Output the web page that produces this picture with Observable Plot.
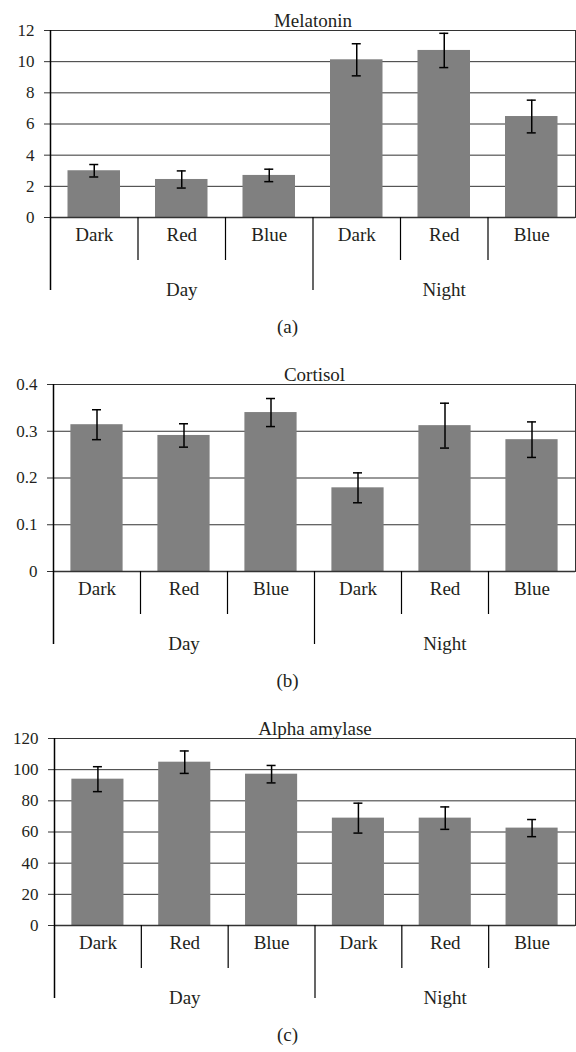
<!DOCTYPE html>
<html>
<head>
<meta charset="utf-8">
<script src="https://cdn.jsdelivr.net/npm/d3@7"></script>
<script src="https://cdn.jsdelivr.net/npm/@observablehq/plot@0.6"></script>
<style>
  html, body { margin: 0; padding: 0; background: #fff; }
  #chart svg { display: block; }
  #chart svg text { font-family: "Liberation Serif", serif; }
</style>
</head>
<body>
<div id="chart"></div>
<script>
// ---- data ----
const categories = ["Dark", "Red", "Blue", "Dark", "Red", "Blue"];
const groups = ["Day", "Day", "Day", "Night", "Night", "Night"];

const melatoninValues = [3.0, 2.44, 2.70, 10.12, 10.72, 6.48];
const melatoninErrors = [0.4, 0.55, 0.4, 1.03, 1.1, 1.05];
const melatoninTicks = [0, 2, 4, 6, 8, 10, 12];

const cortisolValues = [0.314, 0.291, 0.340, 0.179, 0.312, 0.282];
const cortisolErrors = [0.032, 0.025, 0.030, 0.032, 0.048, 0.038];
const cortisolTicks = [0, 0.1, 0.2, 0.3, 0.4];

const amylaseValues = [93.9, 104.8, 97.1, 68.9, 68.9, 62.5];
const amylaseErrors = [8.0, 7.2, 5.6, 9.6, 7.2, 5.5];
const amylaseTicks = [0, 20, 40, 60, 80, 100, 120];

const panels = [
  {title: "Melatonin", letter: "(a)", values: melatoninValues, errors: melatoninErrors, ticks: melatoninTicks, marginLeft: 50, height: 354},
  {title: "Cortisol", letter: "(b)", values: cortisolValues, errors: cortisolErrors, ticks: cortisolTicks, marginLeft: 53, height: 354},
  {title: "Alpha amylase", letter: "(c)", values: amylaseValues, errors: amylaseErrors, ticks: amylaseTicks, marginLeft: 54, height: 344}
];

const font = "Liberation Serif";
const ink = "#231f20";

function panel(p) {
  const ids = categories.map((c, i) => groups[i] + " " + c);
  const data = ids.map((id, i) => ({id, cat: categories[i], group: groups[i], v: p.values[i], e: p.errors[i]}));
  const W = 576, mt = 30, plotH = 187, mr = 1;
  const mb = p.height - mt - plotH;
  const step = (W - p.marginLeft - mr) / ids.length;
  const bw = step * 0.6;
  const cap = (bw - 9) / 2;
  const top = p.ticks[p.ticks.length - 1];
  const isFirst = (i) => i === 0 || groups[i] !== groups[i - 1];
  const firstOfGroup = data.filter((d, i) => isFirst(i));
  const inner = data.filter((d, i) => !isFirst(i));
  const groupNames = Array.from(new Set(groups));
  const groupLabels = groupNames.map(g => {
    const members = data.filter(d => d.group === g);
    return {group: g, mid: members[Math.floor(members.length / 2)].id};
  });

  return Plot.plot({
    width: W,
    height: p.height,
    marginTop: mt,
    marginBottom: mb,
    marginLeft: p.marginLeft,
    marginRight: mr,
    style: {fontFamily: font, color: ink, background: "#fff"},
    x: {domain: ids, paddingInner: 0.4, paddingOuter: 0.2, round: false, axis: null},
    y: {domain: [0, top], label: null},
    marks: [
      Plot.gridY(p.ticks, {stroke: "#333", strokeOpacity: 1, strokeWidth: 1}),
      Plot.barY(data, {x: "id", y: "v", fill: "#808080"}),
      Plot.ruleX(data, {x: "id", y1: d => d.v - d.e, y2: d => d.v + d.e, stroke: "#000", strokeWidth: 1.5}),
      Plot.tickY(data, {x: "id", y: d => d.v - d.e, stroke: "#000", strokeWidth: 1.5, insetLeft: cap, insetRight: cap}),
      Plot.tickY(data, {x: "id", y: d => d.v + d.e, stroke: "#000", strokeWidth: 1.5, insetLeft: cap, insetRight: cap}),
      Plot.frame({stroke: "#333", strokeWidth: 1}),
      Plot.ruleY([0], {stroke: "#333", strokeWidth: 1.5}),
      Plot.axisY(p.ticks, {label: null, tickSize: 6, tickPadding: 10, fontSize: 17, fontFamily: font, tickFormat: d => String(d), stroke: "#333", fill: ink}),
      // y axis line (left) extending down as the first group separator
      Plot.ruleX([firstOfGroup[0]], {x: "id", y1: top, y2: 0, dx: -step / 2, insetBottom: -73, stroke: "#000", strokeWidth: 1.5}),
      // other group separators
      Plot.ruleX(firstOfGroup.slice(1), {x: "id", y1: 0, y2: 0, dx: -step / 2, insetBottom: -73, stroke: "#000", strokeWidth: 1.2}),
      // category separators
      Plot.ruleX(inner, {x: "id", y1: 0, y2: 0, dx: -step / 2, insetBottom: -43, stroke: "#000", strokeWidth: 1.2}),
      // category labels
      Plot.text(data, {x: "id", y: 0, text: "cat", dy: 17, fontSize: 19, fontFamily: font, fill: ink}),
      // group labels (centered on group's middle category)
      Plot.text(groupLabels, {x: "mid", y: 0, text: "group", dy: 72, fontSize: 19, fontFamily: font, fill: ink}),
      // title
      Plot.text([p.title], {frameAnchor: "top", dy: -17, fontSize: 19, fontFamily: font, fill: ink}),
      // panel letter
      Plot.text([p.letter], {frameAnchor: "bottom", dy: 115, dx: -(p.marginLeft - mr) / 2 - 1, fontSize: 19, fontFamily: font, fill: ink})
    ]
  });
}

const root = document.getElementById("chart");
for (const p of panels) root.appendChild(panel(p));
</script>
</body>
</html>
